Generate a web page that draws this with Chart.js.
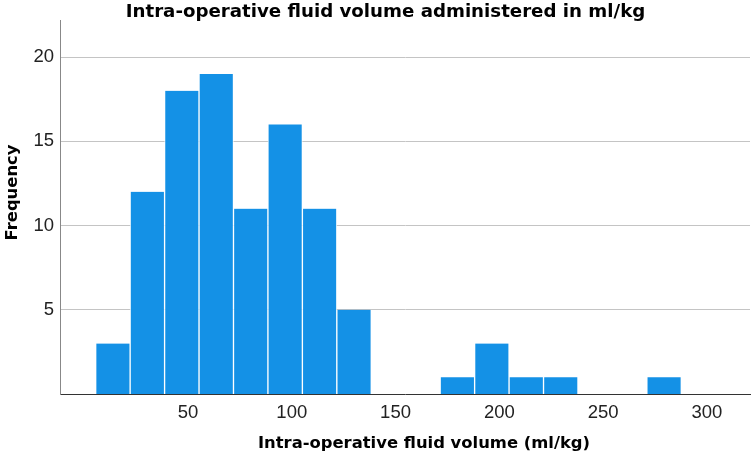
<!DOCTYPE html>
<html>
<head>
<meta charset="utf-8">
<script src="https://cdn.jsdelivr.net/npm/chart.js@4.4.1/dist/chart.umd.min.js"></script>
<style>
  body { margin: 0; background: #fff; }
  canvas { display: block; }
</style>
</head>
<body>
<canvas id="histChart" width="751" height="452"></canvas>
<script>
// bin centres (ml/kg) and counts
const binCenters = [13.8, 30.4, 47.0, 63.6, 80.2, 96.8, 113.4, 130.0, 146.6, 163.2, 179.8, 196.4, 213.0, 229.6, 246.2, 262.8, 279.4];
const frequency  = [3, 12, 18, 19, 11, 16, 11, 5, 0, 0, 1, 3, 1, 1, 0, 0, 1];
const xTickValues = [50, 100, 150, 200, 250, 300];
const yTickValues = [5, 10, 15, 20];

const chartTitle = 'Intra-operative fluid volume administered in ml/kg';
const xTitle = 'Intra-operative fluid volume (ml/kg)';
const yTitle = 'Frequency';

const points = binCenters.map(function (c, i) {
    return { x: c, y: frequency[i] > 0 ? frequency[i] : null };
});

// titles are placed by hand, the SPSS-style layout is not centred on the plot
const titleTexts = {
    id: 'titleTexts',
    afterDraw: function (chart) {
        const ctx = chart.ctx;
        ctx.save();
        ctx.fillStyle = '#000';
        ctx.textAlign = 'center';
        ctx.textBaseline = 'alphabetic';

        ctx.font = 'bold 18.2px "DejaVu Sans"';
        ctx.fillText(chartTitle, 385.5, 16.5);

        ctx.font = 'bold 16.4px "DejaVu Sans"';
        ctx.fillText(xTitle, 424, 447.5);

        ctx.translate(16.5, 192.5);
        ctx.rotate(-Math.PI / 2);
        ctx.fillText(yTitle, 0, 0);
        ctx.restore();
    }
};

const config = {
    type: 'bar',
    data: {
        datasets: [{
            label: 'Frequency',
            data: points,
            backgroundColor: 'rgb(20, 145, 230)',
            borderColor: 'rgba(255, 255, 255, 0.8)',
            borderWidth: { left: 1, right: 1, top: 0, bottom: 0 },
            barPercentage: 1.0,
            categoryPercentage: 1.0
        }]
    },
    options: {
        responsive: false,
        animation: false,
        layout: { padding: { top: 20, right: 1, bottom: 0, left: 0 } },
        plugins: {
            legend: { display: false },
            tooltip: { enabled: false },
            title: { display: false }
        },
        scales: {
            x: {
                type: 'linear',
                min: -11.7,
                max: 320.8,
                offset: false,
                afterBuildTicks: function (scale) {
                    scale.ticks = xTickValues.map(function (v) { return { value: v }; });
                },
                afterFit: function (scale) { scale.height = 58; },
                grid: { display: false, drawTicks: false },
                border: { display: true, color: '#333', width: 1 },
                ticks: {
                    color: '#222',
                    padding: 8,
                    maxRotation: 0,
                    font: { family: 'Liberation Sans', size: 18.5 }
                }
            },
            y: {
                min: 0,
                max: 22.2,
                afterBuildTicks: function (scale) {
                    scale.ticks = yTickValues.map(function (v) { return { value: v }; });
                },
                afterFit: function (scale) { scale.width = 60; },
                grid: { color: '#c4c4c4', drawTicks: false },
                border: { display: true, color: '#888', width: 1 },
                ticks: {
                    color: '#222',
                    padding: 6,
                    font: { family: 'Liberation Sans', size: 18.5 }
                }
            }
        }
    },
    plugins: [titleTexts]
};

var chart = new Chart(document.getElementById('histChart'), config);
</script>
</body>
</html>
